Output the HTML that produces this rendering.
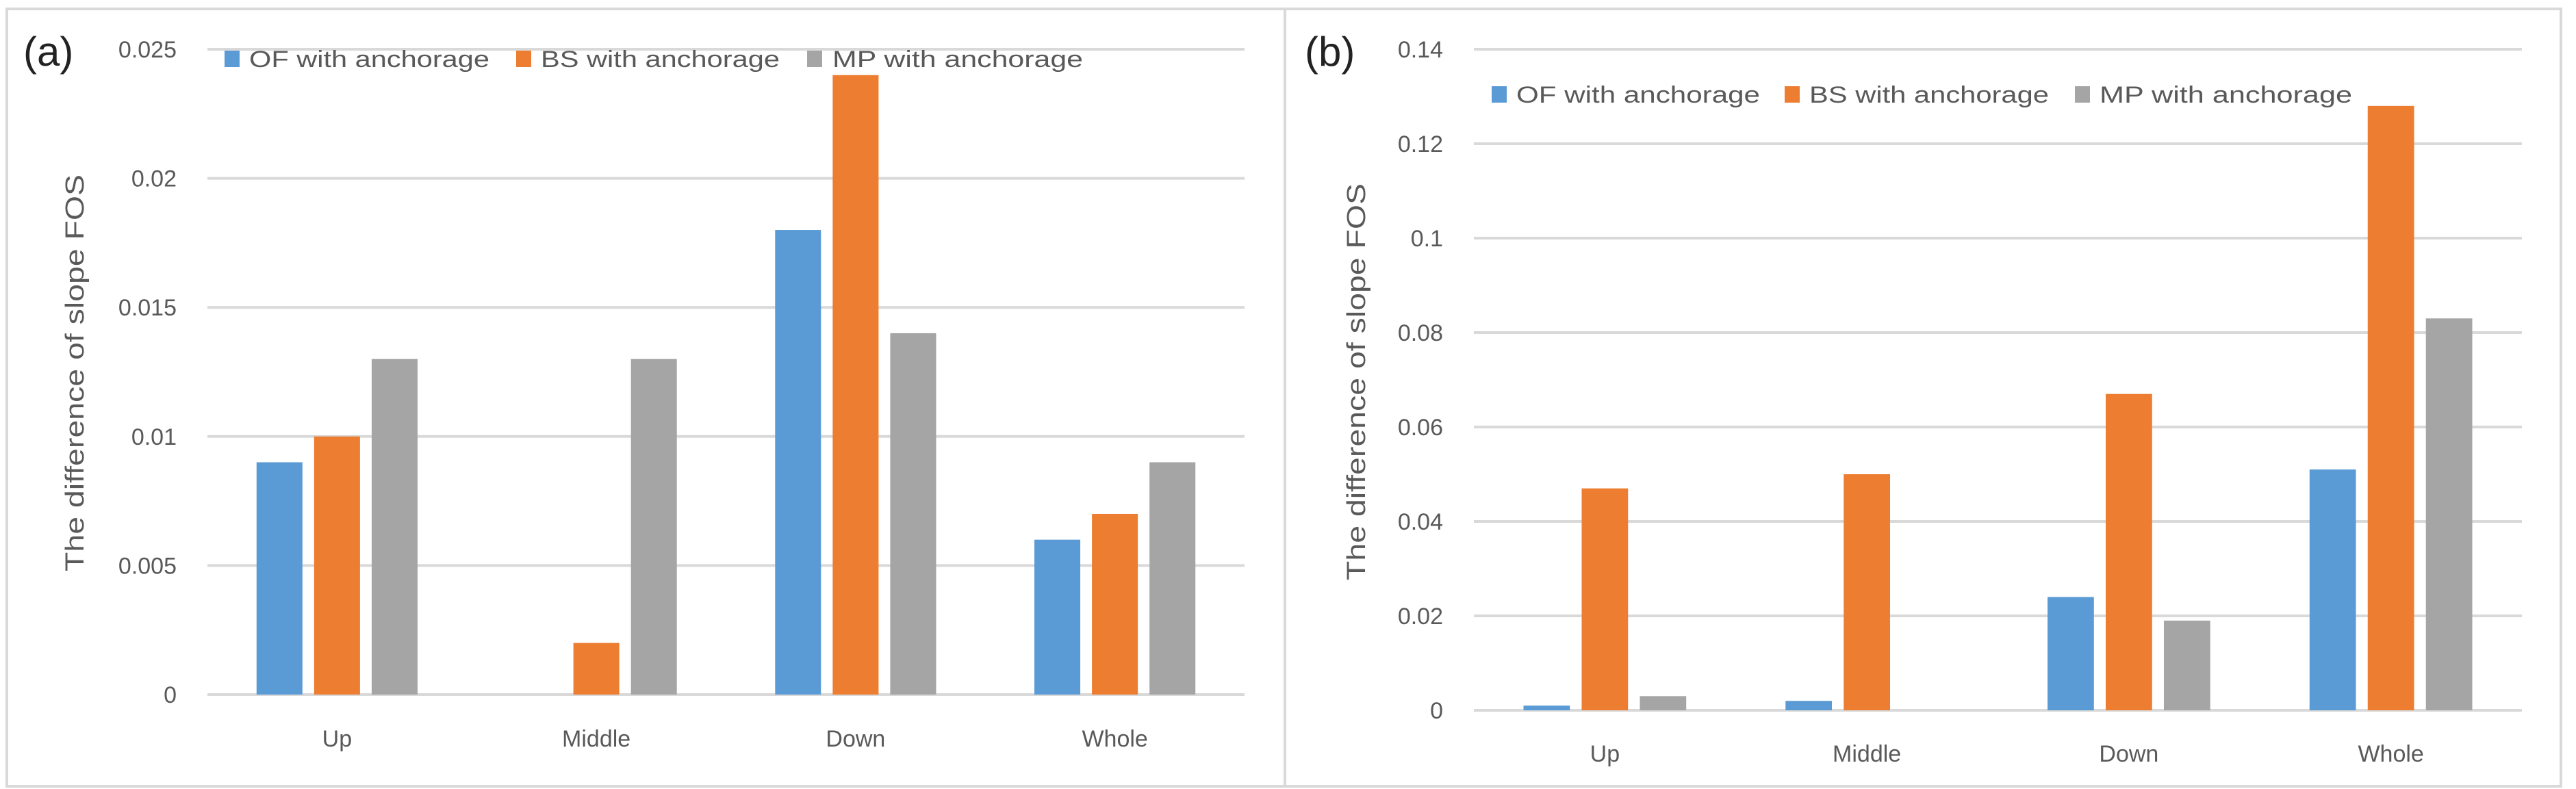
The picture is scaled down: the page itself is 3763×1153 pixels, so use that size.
<!DOCTYPE html>
<html><head><meta charset="utf-8"><style>
html,body{margin:0;padding:0;background:#fff;}
svg{display:block;font-family:"Liberation Sans",sans-serif;}
</style></head><body>
<svg id="s" width="3763" height="1153" viewBox="0 0 3763 1153">
<rect x="10" y="13" width="1869" height="1136" fill="#fff" stroke="#d9d9d9" stroke-width="4"/>
<rect x="1877" y="13" width="1864" height="1136" fill="#fff" stroke="#d9d9d9" stroke-width="4"/>
</svg>
<script>
const categories = ["Up","Middle","Down","Whole"];
const seriesNames = ["OF with anchorage","BS with anchorage","MP with anchorage"];
const aOF = [0.009, 0, 0.018, 0.006];
const aBS = [0.010, 0.002, 0.024, 0.007];
const aMP = [0.013, 0.013, 0.014, 0.009];
const aTicks = ["0","0.005","0.01","0.015","0.02","0.025"];
const aTickVals = [0, 0.005, 0.01, 0.015, 0.02, 0.025];
const bOF = [0.001, 0.002, 0.024, 0.051];
const bBS = [0.047, 0.05, 0.067, 0.128];
const bMP = [0.003, 0, 0.019, 0.083];
const bTicks = ["0","0.02","0.04","0.06","0.08","0.1","0.12","0.14"];
const bTickVals = [0, 0.02, 0.04, 0.06, 0.08, 0.1, 0.12, 0.14];

const NS = "http://www.w3.org/2000/svg";
const svg = document.getElementById("s");
const colors = ["#5B9BD5","#ED7D31","#A5A5A5"];
function mk(tag, attrs, parent){const e=document.createElementNS(NS,tag);for(const k in attrs)e.setAttribute(k,attrs[k]);(parent||svg).appendChild(e);return e;}

function panel(p){
  const g = mk("g",{});
  
  
  const y = v => p.y0 - (v/p.max)*(p.y0-p.yTop);
  const cw = (p.x1-p.x0)/categories.length;
  p.tickVals.forEach((v,i)=>{
    const l = mk("line",{x1:p.x0,x2:p.x1,y1:y(v),y2:y(v),stroke:"#d9d9d9","stroke-width":4},g);
    
    
    const t = mk("text",{x:p.tickX,y:y(v)+12,"text-anchor":"end","font-size":34,fill:"#595959"},g);
    t.textContent = p.ticks[i];
    
    
  });
  const bw = cw*0.177, gap = cw*0.045;
  p.series.forEach((arr,s)=>{
    arr.forEach((v,c)=>{
      const cx = p.x0 + cw*(c+0.5);
      const x = cx - bw*1.5 - gap + s*(bw+gap);
      const r = mk("rect",{x:x,y:y(v),width:bw,height:p.y0-y(v),fill:colors[s]},g);
      
      
    });
  });
  categories.forEach((c,i)=>{
    const t = mk("text",{x:p.x0+cw*(i+0.5),y:p.xLabY+12,"text-anchor":"middle","font-size":34,fill:"#595959"},g);
    t.textContent = c;
    
    
  });
  seriesNames.forEach((n,i)=>{
    const sq = mk("rect",{x:p.leg[i][0],y:p.legY-12,width:22,height:24,fill:colors[i]},g);
    
    
    const t = mk("text",{x:p.leg[i][1],y:p.legY+12,"font-size":34,fill:"#595959",textLength:p.leg[i][2],lengthAdjust:"spacingAndGlyphs"},g);
    t.textContent = n;
    
    
  });
  const yt = mk("text",{x:0,y:0,"text-anchor":"middle","font-size":38,fill:"#595959",textLength:580,lengthAdjust:"spacingAndGlyphs",transform:`translate(${p.titleX},${p.titleY}) rotate(-90)`},g);
  yt.textContent = "The difference of slope FOS";
  
  
  const lab = mk("text",{x:p.labX,y:96,"font-size":60,fill:"#222"},g);
  lab.textContent = p.label;
  
  
}

panel({id:"a",x0:303,x1:1818,y0:1015,yTop:72,max:0.025,ticks:aTicks,tickVals:aTickVals,tickX:258,
  series:[aOF,aBS,aMP],xLabY:1079,legY:86,
  leg:[[328,364,351],[754,790,349],[1179,1216,366]],titleX:122,titleY:545,labX:34,label:"(a)"});
panel({id:"b",x0:2153,x1:3684,y0:1038,yTop:72,max:0.14,ticks:bTicks,tickVals:bTickVals,tickX:2108,
  series:[bOF,bBS,bMP],xLabY:1101,legY:138,
  leg:[[2179,2215,356],[2607,2643,350],[3031,3067,369]],titleX:1994,titleY:558,labX:1906,label:"(b)"});
</script>
</body></html>
